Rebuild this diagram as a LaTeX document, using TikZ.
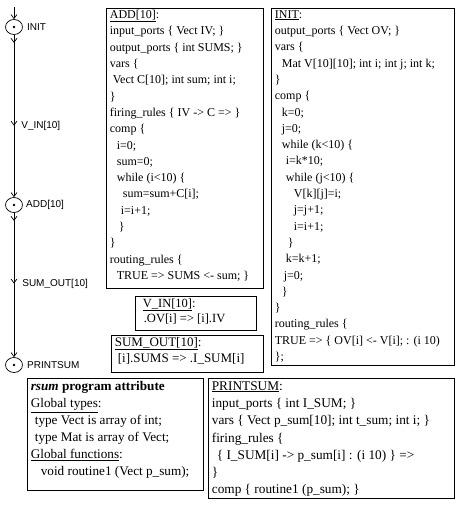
\documentclass[tikz,border=0pt]{standalone}
\usepackage{fontspec}
\setmainfont{Liberation Serif}
\newfontfamily\graphfont{Liberation Sans}
\usetikzlibrary{arrows.meta,decorations.markings,shapes.geometric,positioning}

\tikzset{
  barb/.tip={Straight Barb[length=4pt,width=6pt]},
  actor/.style={draw, ellipse, minimum width=17pt, minimum height=15pt, inner sep=0pt,
    path picture={\fill (path picture bounding box.center) circle (1.3pt);}},
  tag/.style={font=\graphfont\fontsize{10}{11}\selectfont, inner sep=1pt},
  chan/.style={-barb, postaction={decorate},
    decoration={markings, mark=at position 8pt with {\arrow{barb}},
      mark=at position #1 with {\arrow{barb}}}},
  frame/.style={draw, anchor=north west, inner sep=0pt},
  codetext/.style={anchor=north west, inner xsep=3.5pt, inner ysep=2pt, align=left}
}

\begin{document}
\begin{tikzpicture}[x=1pt, y=-1pt, line width=0.7pt]
  \useasboundingbox (0,0) rectangle (459,508);

  % process graph
  \node[actor] (init) at (14,27) {};
  \node[actor] (add) at (14,205) {};
  \node[actor] (printsum) at (14,365) {};
  \node[tag, right=3pt of init] (initname) {INIT};
  \node[tag, right=2pt of add] (addname) {ADD[10]};
  \node[tag, right=3pt of printsum] (printname) {PRINTSUM};
  \coordinate (src) at (14,7);

  \draw[-barb] (src) -- (init);
  \draw[chan=0.56] (init) -- (add) node[tag, pos=0.56, right=6pt] (vinname) {V\_IN[10]};
  \draw[chan=0.49] (add) -- (printsum) node[tag, pos=0.49, right=7pt] (sumname) {SUM\_OUT[10]};

  \begin{scope}[font=\fontsize{12}{16.3}\selectfont]
  % ADD[10] block
  \node[frame, minimum width=157pt, minimum height=280pt,
    label={[codetext]north west:{%
      \underline{ADD[10]}:\\
      input\_ports \{ Vect IV; \}\\
      output\_ports \{ int SUMS; \}\\
      vars \{\\
      \hspace*{3pt}Vect C[10]; int sum; int i;\\
      \}\\
      firing\_rules \{ IV -> C => \}\\
      comp \{\\
      \hspace*{7pt}i=0;\\
      \hspace*{7pt}sum=0;\\
      \hspace*{7pt}while (i<10) \{\\
      \hspace*{13pt}sum=sum+C[i];\\
      \hspace*{11pt}i=i+1;\\
      \hspace*{9pt}\}\\
      \}\\
      routing\_rules \{\\
      \hspace*{7pt}TRUE => SUMS <- sum; \}}}] (addbox) at (106,8) {};

  % INIT block
  \node[frame, minimum width=183pt, minimum height=357pt,
    label={[codetext]north west:{%
      \underline{INIT}:\\
      output\_ports \{ Vect OV; \}\\
      vars \{\\
      \hspace*{7pt}Mat V[10][10]; int i; int j; int k;\\
      \}\\
      comp \{\\
      \hspace*{7pt}k=0;\\
      \hspace*{7pt}j=0;\\
      \hspace*{7pt}while (k<10) \{\\
      \hspace*{11pt}i=k*10;\\
      \hspace*{11pt}while (j<10) \{\\
      \hspace*{19pt}V[k][j]=i;\\
      \hspace*{19pt}j=j+1;\\
      \hspace*{19pt}i=i+1;\\
      \hspace*{13pt}\}\\
      \hspace*{11pt}k=k+1;\\
      \hspace*{9pt}j=0;\\
      \hspace*{7pt}\}\\
      \}\\
      routing\_rules \{\\
      TRUE => \{ OV[i] <- V[i]; : (i 10)\\
      \};}}] (initbox) at (271,8) {};
  \end{scope}

  % channel blocks
  \node[frame, minimum width=121pt, minimum height=34pt,
    label={[codetext, font=\fontsize{12.5}{15}\selectfont]north west:{%
      \hspace*{4pt}\underline{V\_IN[10]}:\\
      \hspace*{5pt}.OV[i] => [i].IV}}] (vinbox) at (135,296) {};
  \node[frame, minimum width=152pt, minimum height=37pt,
    label={[codetext, font=\fontsize{13}{16}\selectfont, inner ysep=2pt]north west:{%
      \underline{SUM\_OUT[10]}:\\
      \hspace*{3pt}[i].SUMS => .I\_SUM[i]}}] (sumbox) at (111,335) {};

  % program attribute
  \node[frame, minimum width=176pt, minimum height=112pt,
    label={[codetext, font=\fontsize{13.2}{17}\selectfont, inner ysep=3pt]north west:{%
      \textbf{\textit{rsum} program attribute}\\
      \underline{Global types}:\\
      \hspace*{4pt}type Vect is array of int;\\
      \hspace*{4pt}type Mat is array of Vect;\\
      \underline{Global functions}:\\
      \hspace*{10pt}void routine1 (Vect p\_sum);}}] (attrbox) at (27,378) {};

  % PRINTSUM block
  \node[frame, minimum width=246pt, minimum height=120pt,
    label={[codetext, font=\fontsize{13.3}{17.3}\selectfont, inner ysep=3pt]north west:{%
      \underline{PRINTSUM}:\\
      input\_ports \{ int I\_SUM; \}\\
      vars \{ Vect p\_sum[10]; int t\_sum; int i; \}\\
      firing\_rules \{\\
      \hspace*{5pt}\{ I\_SUM[i] -> p\_sum[i] : (i 10) \} =>\\
      \}\\
      comp \{ routine1 (p\_sum); \}}}] (printbox) at (208,378) {};
\end{tikzpicture}
\end{document}
